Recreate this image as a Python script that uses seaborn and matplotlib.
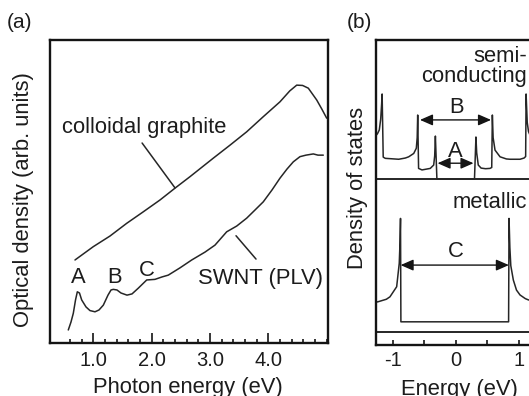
import matplotlib
matplotlib.use('Agg')
import matplotlib.pyplot as plt
import seaborn as sns
import pandas as pd
from matplotlib.ticker import FixedLocator, NullLocator

# ---------------- data: panel (a) optical density ----------------
graphite_E = [0.686, 1.0, 1.286, 1.573, 1.85, 2.144, 2.401, 2.659, 3.058, 3.345,
              3.631, 3.916, 4.202, 4.37, 4.489, 4.59, 4.688, 4.832, 4.92, 5.003]
graphite_OD = [27.4, 31.8, 35.3, 39.5, 43.2, 47.2, 51.1, 54.9, 61.0, 65.3,
               69.7, 74.7, 79.6, 83.2, 85.1, 85.0, 84.1, 80.2, 77.2, 74.2]

swnt_E = [0.571, 0.617, 0.657, 0.695, 0.726, 0.763, 0.801, 0.875, 0.943, 1.029,
          1.098, 1.172, 1.252, 1.304, 1.343, 1.406, 1.475, 1.578, 1.664, 1.772,
          1.916, 2.058, 2.178, 2.286, 2.487, 2.688, 2.916, 3.087, 3.288, 3.46,
          3.631, 3.774, 3.916, 4.065, 4.202, 4.322, 4.431, 4.545, 4.648, 4.774,
          4.854, 4.945]
swnt_OD = [4.3, 6.9, 9.8, 14.2, 16.9, 16.5, 14.2, 11.9, 10.7, 10.3,
           10.9, 12.5, 15.8, 17.5, 17.7, 17.5, 16.5, 15.8, 16.2, 18.1,
           20.8, 21.0, 21.8, 22.4, 24.8, 27.4, 30.0, 32.3, 36.7, 38.6,
           41.2, 43.9, 46.6, 50.5, 54.4, 57.4, 59.8, 61.5, 62.0, 62.4,
           62.0, 62.0]

a_major_ticks = [1.0, 2.0, 3.0, 4.0]
a_tick_labels = ['1.0', '2.0', '3.0', '4.0']
a_minor_ticks = [0.6, 0.8, 1.2, 1.4, 1.6, 1.8, 2.2, 2.4, 2.6, 2.8, 3.2, 3.4,
                 3.6, 3.8, 4.2, 4.4, 4.6, 4.8, 5.0]

# ---------------- data: panel (b) density of states ----------------
semi_E = [-1.272, -1.24, -1.212, -1.19, -1.175, -1.167, -1.150, -1.117, -0.905, -0.80,
          -0.747, -0.667, -0.626, -0.612, -0.604, -0.590, -0.536, -0.405, -0.351, -0.335,
          -0.324, -0.30, 0.295, 0.318, 0.33, 0.355, 0.40, 0.47, 0.54, 0.568,
          0.578, 0.59, 0.62, 0.70, 0.80, 0.857, 1.016, 1.08, 1.105, 1.112,
          1.13, 1.15, 1.18, 1.272]
semi_DOS = [68.5, 69.3, 70.5, 74.0, 79.0, 82.3, 61.6, 61.2, 60.9, 61.3,
            61.7, 62.8, 64.5, 68.0, 75.4, 57.9, 57.4, 57.9, 59.0, 62.0,
            68.5, 54.4, 54.4, 68.2, 63.0, 59.0, 58.0, 57.8, 57.9, 58.2,
            75.4, 68.0, 63.9, 61.7, 61.0, 60.9, 60.9, 61.3, 61.8, 82.3,
            73.0, 70.0, 68.5, 67.5]

met_E = [-1.272, -1.228, -1.10, -1.043, -0.937, -0.896, -0.885, -0.876, -0.870, 0.835,
         0.842, 0.855, 0.87, 0.91, 0.96, 1.016, 1.10, 1.147, 1.272]
met_DOS = [14.0, 14.2, 15.0, 15.8, 19.1, 26.8, 33.0, 41.5, 7.6, 7.6,
           41.5, 32.0, 26.0, 21.3, 18.0, 16.4, 15.2, 14.8, 14.2]

semi_base = 54.4
met_base = 4.4
b_ticks = [-1.0, -0.5, 0.0, 0.5, 1.0]
b_tick_labels = ['-1', '', '0', '', '1']

# ---------------- figure ----------------
sns.set_theme(style='white')
plt.rcParams['font.family'] = ['Liberation Sans', 'DejaVu Sans']

W, H = 529, 396
fig = plt.figure(figsize=(W / 100, H / 100), dpi=100)


def frac(l, t, r, b):
    return [l / W, 1 - b / H, (r - l) / W, (b - t) / H]


line_col = '#262626'
spine_col = '#141414'
txt_col = '#1c1c1c'
FS = 15.8

axa = fig.add_axes(frac(50, 40, 328, 343))
axb = fig.add_axes(frac(375.5, 40, 536.2, 345))

# ----- panel (a)
df_g = pd.DataFrame({'E': graphite_E, 'OD': graphite_OD})
df_s = pd.DataFrame({'E': swnt_E, 'OD': swnt_OD})
sns.lineplot(data=df_g, x='E', y='OD', ax=axa, color=line_col, lw=1.1, sort=False, estimator=None)
sns.lineplot(data=df_s, x='E', y='OD', ax=axa, color=line_col, lw=1.1, sort=False, estimator=None)
axa.set_xlim(0.2573, 5.0257)
axa.set_ylim(0, 100)
axa.xaxis.set_major_locator(FixedLocator(a_major_ticks))
axa.set_xticklabels(a_tick_labels)
axa.xaxis.set_minor_locator(FixedLocator(a_minor_ticks))
axa.yaxis.set_major_locator(NullLocator())
axa.tick_params(axis='x', which='major', direction='in', length=7, width=1.2,
                bottom=True, top=False, labelsize=14.5, pad=5.5, color=spine_col,
                labelcolor=txt_col)
axa.tick_params(axis='x', which='minor', direction='in', length=3.2, width=1.2,
                bottom=True, top=False, color=spine_col)
for s in axa.spines.values():
    s.set_linewidth(1.7)
    s.set_color(spine_col)
axa.set_xlabel('Photon energy (eV)', fontsize=FS, color=txt_col)
axa.xaxis.set_label_coords(0.4946, -0.112)
axa.set_ylabel('Optical density (arb. units)', fontsize=FS, color=txt_col)
axa.yaxis.set_label_coords(-0.0576, 0.475)

# leader lines (annotation)
axa.plot([1.837, 2.401], [66.0, 51.2], color=line_col, lw=1.1)
axa.plot([3.448, 3.791], [35.4, 27.7], color=line_col, lw=1.1)
axa.text(1.878, 69.3, 'colloidal graphite', ha='center', va='baseline', fontsize=FS, color=txt_col)
axa.text(3.868, 19.6, 'SWNT (PLV)', ha='center', va='baseline', fontsize=FS, color=txt_col)
axa.text(0.743, 19.7, 'A', ha='center', va='baseline', fontsize=FS, color=txt_col)
axa.text(1.372, 19.7, 'B', ha='center', va='baseline', fontsize=FS, color=txt_col)
axa.text(1.916, 22.1, 'C', ha='center', va='baseline', fontsize=FS, color=txt_col)

# ----- panel (b)
df_semi = pd.DataFrame({'E': semi_E, 'DOS': semi_DOS})
df_met = pd.DataFrame({'E': met_E, 'DOS': met_DOS})
axb.axhline(semi_base, color=line_col, lw=1.4)
axb.axhline(met_base, color=line_col, lw=1.4)
sns.lineplot(data=df_semi, x='E', y='DOS', ax=axb, color=line_col, lw=1.1, sort=False, estimator=None)
sns.lineplot(data=df_met, x='E', y='DOS', ax=axb, color=line_col, lw=1.1, sort=False, estimator=None)
axb.set_xlim(-1.272, 1.272)
axb.set_ylim(0, 100)
axb.xaxis.set_major_locator(FixedLocator(b_ticks))
axb.set_xticklabels(b_tick_labels)
axb.yaxis.set_major_locator(NullLocator())
axb.tick_params(axis='x', which='major', direction='in', length=3.5, width=1.2,
                bottom=True, top=False, labelsize=14.5, pad=4, color=spine_col,
                labelcolor=txt_col)
for s in axb.spines.values():
    s.set_linewidth(1.7)
    s.set_color(spine_col)
axb.spines['right'].set_visible(False)
axb.set_xlabel('Energy (eV)', fontsize=FS, color=txt_col)
axb.xaxis.set_label_coords(0.52, -0.111)
axb.set_ylabel('Density of states', fontsize=FS, color=txt_col)
axb.yaxis.set_label_coords(-0.047, 0.516)

arrow_kw = dict(arrowstyle='<|-|>,head_length=0.55,head_width=0.24', color='#141414',
                lw=1.0, shrinkA=0, shrinkB=0, mutation_scale=14)
axb.annotate('', xy=(-0.568, 73.8), xytext=(0.557, 73.8), arrowprops=arrow_kw)
axb.annotate('', xy=(-0.29, 59.6), xytext=(0.28, 59.6), arrowprops=arrow_kw)
axb.annotate('', xy=(-0.875, 26.2), xytext=(0.84, 26.2), arrowprops=arrow_kw)
axb.text(0.013, 76.0, 'B', ha='center', va='baseline', fontsize=FS, color=txt_col)
axb.text(-0.013, 61.7, 'A', ha='center', va='baseline', fontsize=FS, color=txt_col)
axb.text(0.0, 29.0, 'C', ha='center', va='baseline', fontsize=FS, color=txt_col)
axb.text(1.122, 92.9, 'semi-', ha='right', va='baseline', fontsize=FS, color=txt_col)
axb.text(1.122, 86.1, 'conducting', ha='right', va='baseline', fontsize=FS, color=txt_col)
axb.text(1.122, 44.8, 'metallic', ha='right', va='baseline', fontsize=FS, color=txt_col)

fig.text(7 / W, 1 - 28.5 / H, '(a)', ha='left', va='baseline', fontsize=15, color=txt_col)
fig.text(347 / W, 1 - 28.5 / H, '(b)', ha='left', va='baseline', fontsize=15, color=txt_col)

fig.savefig('out.png', dpi=100, facecolor='white')
